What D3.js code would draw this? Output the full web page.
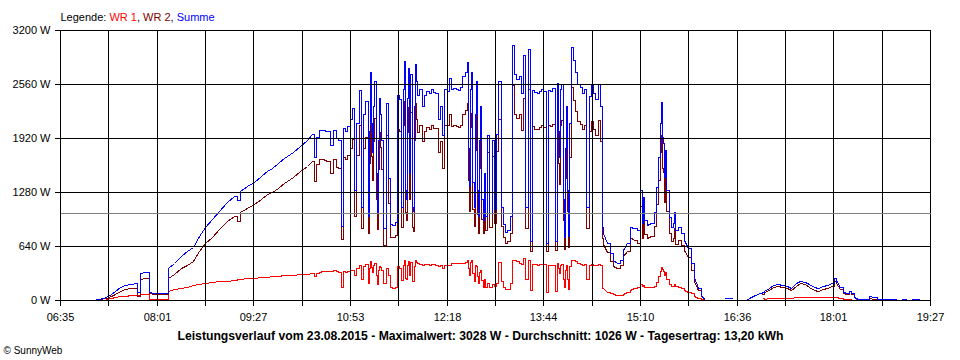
<!DOCTYPE html>
<html>
<head>
<meta charset="utf-8">
<script src="https://cdn.jsdelivr.net/npm/d3@7"></script>
<style>
    body { margin: 0; background: #fff; }
    svg text { font-family: "Liberation Sans", Arial, sans-serif; font-size: 11px; fill: #000; }
</style>
</head>
<body>
<div id="chart"></div>
<script>
// Messzeitpunkte (HH:MM) und Leistung in W
var times = [
    "07:04","07:10","07:16","07:20","07:24","07:28","07:33","07:38","07:42","07:43","07:46","07:50",
    "07:53","07:54","07:58","08:03","08:08","08:11","08:16","08:22","08:28","08:33","08:38","08:44",
    "08:50","08:56","09:03","09:09","09:12","09:15","09:21","09:27","09:33","09:39","09:43","09:48",
    "09:54","10:02","10:08","10:14","10:19","10:20","10:22","10:25","10:28","10:32","10:35","10:37",
    "10:40","10:42","10:44","10:46","10:48","10:50","10:52","10:54","10:56","10:58","11:00","11:02","11:04","11:06",
    "11:08","11:09","11:10","11:11","11:12","11:13","11:14","11:15","11:16","11:17","11:18","11:19","11:20",
    "11:22","11:24","11:26","11:28","11:30","11:32","11:34","11:36",
    "11:38","11:39","11:40","11:41","11:42","11:43","11:44","11:45","11:46","11:47","11:48","11:49","11:50","11:51","11:52",
    "11:54","11:56","11:58","12:00","12:02","12:04","12:06",
    "12:08","12:10","12:12","12:14","12:16","12:18","12:20","12:22","12:24","12:26","12:28","12:30","12:32","12:34",
    "12:36","12:37","12:38","12:39","12:40","12:41","12:42","12:43","12:44","12:45","12:46","12:47","12:48","12:49","12:50","12:51","12:52",
    "12:54","12:56","12:58","13:00","13:02",
    "13:04","13:06","13:08","13:10","13:12","13:14","13:16","13:18","13:20","13:22","13:24","13:26","13:28","13:30",
    "13:32","13:34","13:36","13:38","13:40","13:42","13:44","13:46","13:48","13:50","13:52","13:54",
    "13:56","13:57","13:58","13:59","14:00","14:01","14:02","14:03","14:04","14:05","14:06","14:07","14:08",
    "14:10","14:12","14:14","14:16","14:18","14:20","14:22","14:24","14:26","14:28","14:30","14:32","14:34",
    "14:36","14:37","14:40","14:43","14:46","14:49","14:52","14:55","14:58","15:01","15:04","15:07",
    "15:10","15:11","15:12","15:13","15:16","15:19","15:22","15:24","15:26","15:27","15:28","15:29",
    "15:30","15:31","15:32","15:33","15:35","15:37","15:39","15:40","15:41","15:43","15:46","15:49",
    "15:52","15:55","15:58","16:01","16:04","16:07","16:08","16:24","16:31","16:32","16:44","16:48",
    "16:52","16:56","16:58","17:00","17:04","17:08","17:12","17:16","17:20","17:24","17:28","17:32",
    "17:36","17:40","17:44","17:48","17:52","17:56","18:00","18:02","18:04","18:07","18:10","18:13",
    "18:15","18:17","18:20","18:23","18:26","18:30","18:33","18:37","18:40","18:42","18:57","18:58",
    "19:01","19:06","19:07","19:10","19:17","19:18"
];

var wr1 = [
    null,null,10,22,38,48,52,55,58,58,72,72,
    70,15,14,14,14,110,128,145,160,172,185,197,
    210,220,229,240,245,250,255,262,270,278,282,288,
    295,300,305,310,315,290,320,335,345,348,340,350,
    340,335,158,340,330,345,350,360,300,380,420,250,400,430,
    200,380,460,390,330,410,440,300,190,350,400,390,350,
    200,380,300,150,145,150,400,380,
    240,420,470,260,250,410,460,300,450,230,230,400,470,450,440,
    430,420,430,430,420,430,425,
    410,400,420,380,420,410,420,440,440,440,440,440,440,450,
    480,380,300,450,480,320,220,420,400,280,200,330,350,240,160,250,160,
    200,160,190,170,200,
    450,220,150,130,135,200,480,470,460,440,430,500,250,480,
    120,430,430,420,425,430,430,100,420,420,420,110,
    440,380,320,420,430,250,150,350,420,250,130,400,480,
    470,460,440,430,420,430,250,420,430,420,420,430,420,
    140,138,100,85,70,60,60,70,90,120,140,150,
    190,170,180,160,150,150,170,210,280,340,395,370,
    340,300,330,250,190,170,170,190,170,160,140,115,
    100,80,50,25,10,0,null,null,null,null,null,null,
    null,null,20,15,20,20,20,20,20,25,32,32,
    32,30,30,30,30,30,30,35,35,25,15,10,
    10,5,5,8,8,8,20,15,8,null,null,null,
    null,null,null,null,null,null
];

var wr2 = [
    5,8,20,48,72,102,131,140,147,42,253,258,
    260,85,74,66,66,265,312,375,420,460,575,672,
    750,840,936,990,935,1040,1095,1140,1200,1252,1278,1332,
    1385,1458,1525,1590,1652,1410,1610,1675,1670,1652,1500,1670,
    1580,1565,722,1700,1670,1715,1800,1910,1000,1720,2070,850,1800,1930,
    800,1620,2240,1710,1420,1890,2160,1200,840,1550,1990,1810,1550,
    650,1950,1150,750,745,770,2030,2000,
    860,2080,2360,1040,950,1990,2290,1200,2230,870,820,1900,2330,2150,1990,
    2070,1880,2000,2050,2030,2070,2035,
    2040,1750,1880,1570,2080,2070,2210,2060,2070,2060,2050,2080,2210,2250,
    2340,1420,1050,2050,2220,1080,880,1780,2200,1020,800,1570,1950,960,790,1250,830,
    1750,870,1710,910,1770,
    2150,880,750,680,695,800,2548,2210,2160,2210,2020,2400,850,2500,
    580,2060,2030,2030,2055,2070,2050,580,2070,2060,2090,590,
    2130,1620,1380,2080,2130,950,600,1450,1880,1050,630,1700,2520,
    2370,2240,2120,2090,2030,2070,850,2000,2120,2030,1960,2130,1880,
    730,662,570,468,404,375,414,523,582,749,710,680,
    1114,739,1045,788,739,759,877,1133,1419,1754,1955,1566,
    1520,1162,1448,1054,798,699,739,857,660,709,650,596,
    512,355,227,113,49,0,null,18,18,null,5,38,
    57,79,72,96,118,158,170,158,146,113,165,197,
    185,160,120,108,136,148,167,222,202,133,84,69,
    101,74,35,8,0,2,25,15,2,10,10,null,
    10,10,null,10,10,null
];

var summe = [
    5,8,30,70,110,150,183,195,205,100,325,330,
    330,100,88,80,80,375,440,520,580,632,760,869,
    960,1060,1165,1230,1180,1290,1350,1402,1470,1530,1560,1620,
    1680,1758,1830,1900,1967,1700,1930,2010,2015,2000,1840,2020,
    1920,1900,880,2040,2000,2060,2150,2270,1300,2100,2490,1100,2200,2360,
    1000,2000,2700,2100,1750,2300,2600,1500,1030,1900,2390,2200,1900,
    850,2330,1450,900,890,920,2430,2380,
    1100,2500,2830,1300,1200,2400,2750,1500,2680,1100,1050,2300,2800,2600,2430,
    2500,2300,2430,2480,2450,2500,2460,
    2450,2150,2300,1950,2500,2480,2630,2500,2510,2500,2490,2520,2650,2700,
    2820,1800,1350,2500,2700,1400,1100,2200,2600,1300,1000,1900,2300,1200,950,1500,990,
    1950,1030,1900,1080,1970,
    2600,1100,900,810,830,1000,3028,2680,2620,2650,2450,2900,1100,2980,
    700,2490,2460,2450,2480,2500,2480,680,2490,2480,2510,700,
    2570,2000,1700,2500,2560,1200,750,1800,2300,1300,760,2100,3000,
    2840,2700,2560,2520,2450,2500,1100,2420,2550,2450,2380,2560,2300,
    870,800,670,553,474,435,474,593,672,869,850,830,
    1304,909,1225,948,889,909,1047,1343,1699,2094,2350,1936,
    1860,1462,1778,1304,988,869,909,1047,830,869,790,711,
    612,435,277,138,59,0,null,18,18,null,5,40,
    59,79,92,111,138,178,190,178,166,138,197,229,
    217,190,150,138,166,178,197,257,237,158,99,79,
    111,79,40,16,8,10,45,30,10,10,10,null,
    10,10,null,10,10,null
];

var yTicks = [0, 640, 1280, 1920, 2560, 3200];
var xLabels = ["06:35", "08:01", "09:27", "10:53", "12:18", "13:44", "15:10", "16:36", "18:01", "19:27"];
var average = 1026;

var legendParts = [
    { text: "Legende: ", color: "#000" },
    { text: "WR 1", color: "#ff0000" },
    { text: ", ", color: "#000" },
    { text: "WR 2", color: "#800000" },
    { text: ", ", color: "#000" },
    { text: "Summe", color: "#0000ff" }
];
var titleText = "Leistungsverlauf vom 23.08.2015 - Maximalwert: 3028 W - Durchschnitt: 1026 W - Tagesertrag: 13,20 kWh";

(function(){

    var width = 960;
    var height = 360;

    var margin = { top: 30, bottom: 60, left: 60, right: 30 };

    var svg = d3.select("#chart")
        .append("svg")
            .attr("width", width)
            .attr("height", height)
        .append("g")
            .attr("transform", "translate(0.5,0.5)");

    var parseMin = function(s){
        var p = s.split(":");
        return +p[0] * 60 + +p[1];
    };

    var tStart = parseMin(xLabels[0]);
    var tEnd = parseMin(xLabels[xLabels.length - 1]);
    var gridCount = (xLabels.length - 1) * 2;
    var gridTimes = d3.range(gridCount + 1).map(function(i){
        return tStart + i * (tEnd - tStart) / gridCount;
    });

    var x = d3.scaleLinear()
        .domain([tStart, tEnd])
        .range([margin.left, width - margin.right]);

    var y = d3.scaleLinear()
        .domain([0, yTicks[yTicks.length - 1]])
        .range([height - margin.bottom, margin.top]);

    var series = [
        { values: wr1, color: "#ff0000" },
        { values: wr2, color: "#800000" },
        { values: summe, color: "#0000ff" }
    ];

    // dichte Messpunkte als Treppe, weite Abstaende als Gerade
    var spikeCurve = function(context){
        return {
            areaStart: function(){},
            areaEnd: function(){},
            lineStart: function(){ this._point = 0; },
            lineEnd: function(){},
            point: function(px, py){
                if (this._point === 0) {
                    this._point = 1;
                    context.moveTo(px, py);
                } else {
                    if (px - this._x <= 3) context.lineTo(px, this._y);
                    context.lineTo(px, py);
                }
                this._x = px;
                this._y = py;
            }
        };
    };

    var line = d3.line()
        .defined(function(d){ return d.v != null; })
        .x(function(d){ return Math.round(x(d.t)); })
        .y(function(d){ return Math.round(y(d.v)); })
        .curve(spikeCurve);

    svg.append("g")
        .attr("class", "lines")
        .selectAll("path")
        .data(series)
        .enter()
        .append("path")
            .attr("d", function(s){
                return line(times.map(function(t, i){ return { t: parseMin(t), v: s.values[i] }; }));
            })
            .attr("fill", "none")
            .attr("stroke", function(s){ return s.color; })
            .attr("stroke-width", 1)
            .attr("shape-rendering", "crispEdges");

    // Gitter liegt ueber den Kurven
    var grid = svg.append("g")
        .attr("class", "grid")
        .attr("shape-rendering", "crispEdges")
        .attr("stroke", "#000");

    grid.selectAll("line.h")
        .data(yTicks)
        .enter()
        .append("line")
            .attr("class", "h")
            .attr("x1", x(tStart) - 6)
            .attr("x2", x(tEnd))
            .attr("y1", function(d){ return Math.round(y(d)); })
            .attr("y2", function(d){ return Math.round(y(d)); });

    grid.selectAll("line.v")
        .data(gridTimes)
        .enter()
        .append("line")
            .attr("class", "v")
            .attr("x1", function(d){ return Math.round(x(d)); })
            .attr("x2", function(d){ return Math.round(x(d)); })
            .attr("y1", y(yTicks[yTicks.length - 1]))
            .attr("y2", y(0) + 5);

    svg.append("line")
        .attr("x1", x(tStart))
        .attr("x2", x(tEnd))
        .attr("y1", Math.round(y(average)))
        .attr("y2", Math.round(y(average)))
        .attr("stroke", "#808080")
        .attr("shape-rendering", "crispEdges");

    svg.append("g")
        .attr("class", "ylabels")
        .selectAll("text")
        .data(yTicks)
        .enter()
        .append("text")
            .attr("x", x(tStart) - 10)
            .attr("y", function(d){ return Math.round(y(d)); })
            .attr("dy", "0.33em")
            .attr("text-anchor", "end")
            .text(function(d){ return d + " W"; });

    svg.append("g")
        .attr("class", "xlabels")
        .selectAll("text")
        .data(xLabels)
        .enter()
        .append("text")
            .attr("x", function(d, i){ return Math.round(x(gridTimes[i * 2])); })
            .attr("y", y(0) + 20)
            .attr("text-anchor", "middle")
            .text(function(d){ return d; });

    var legend = svg.append("text")
        .attr("x", x(tStart))
        .attr("y", 20);
    legend.selectAll("tspan")
        .data(legendParts)
        .enter()
        .append("tspan")
            .style("fill", function(d){ return d.color; })
            .style("white-space", "pre")
            .text(function(d){ return d.text; });

    svg.append("text")
        .attr("x", width / 2)
        .attr("y", 339)
        .attr("text-anchor", "middle")
        .attr("textLength", 606)
        .attr("lengthAdjust", "spacingAndGlyphs")
        .style("font-weight", "bold")
        .style("font-size", "12px")
        .text(titleText);

    svg.append("text")
        .attr("x", 3)
        .attr("y", 353)
        .style("font-size", "10px")
        .text("\u00a9 SunnyWeb");
})();
</script>
</body>
</html>
